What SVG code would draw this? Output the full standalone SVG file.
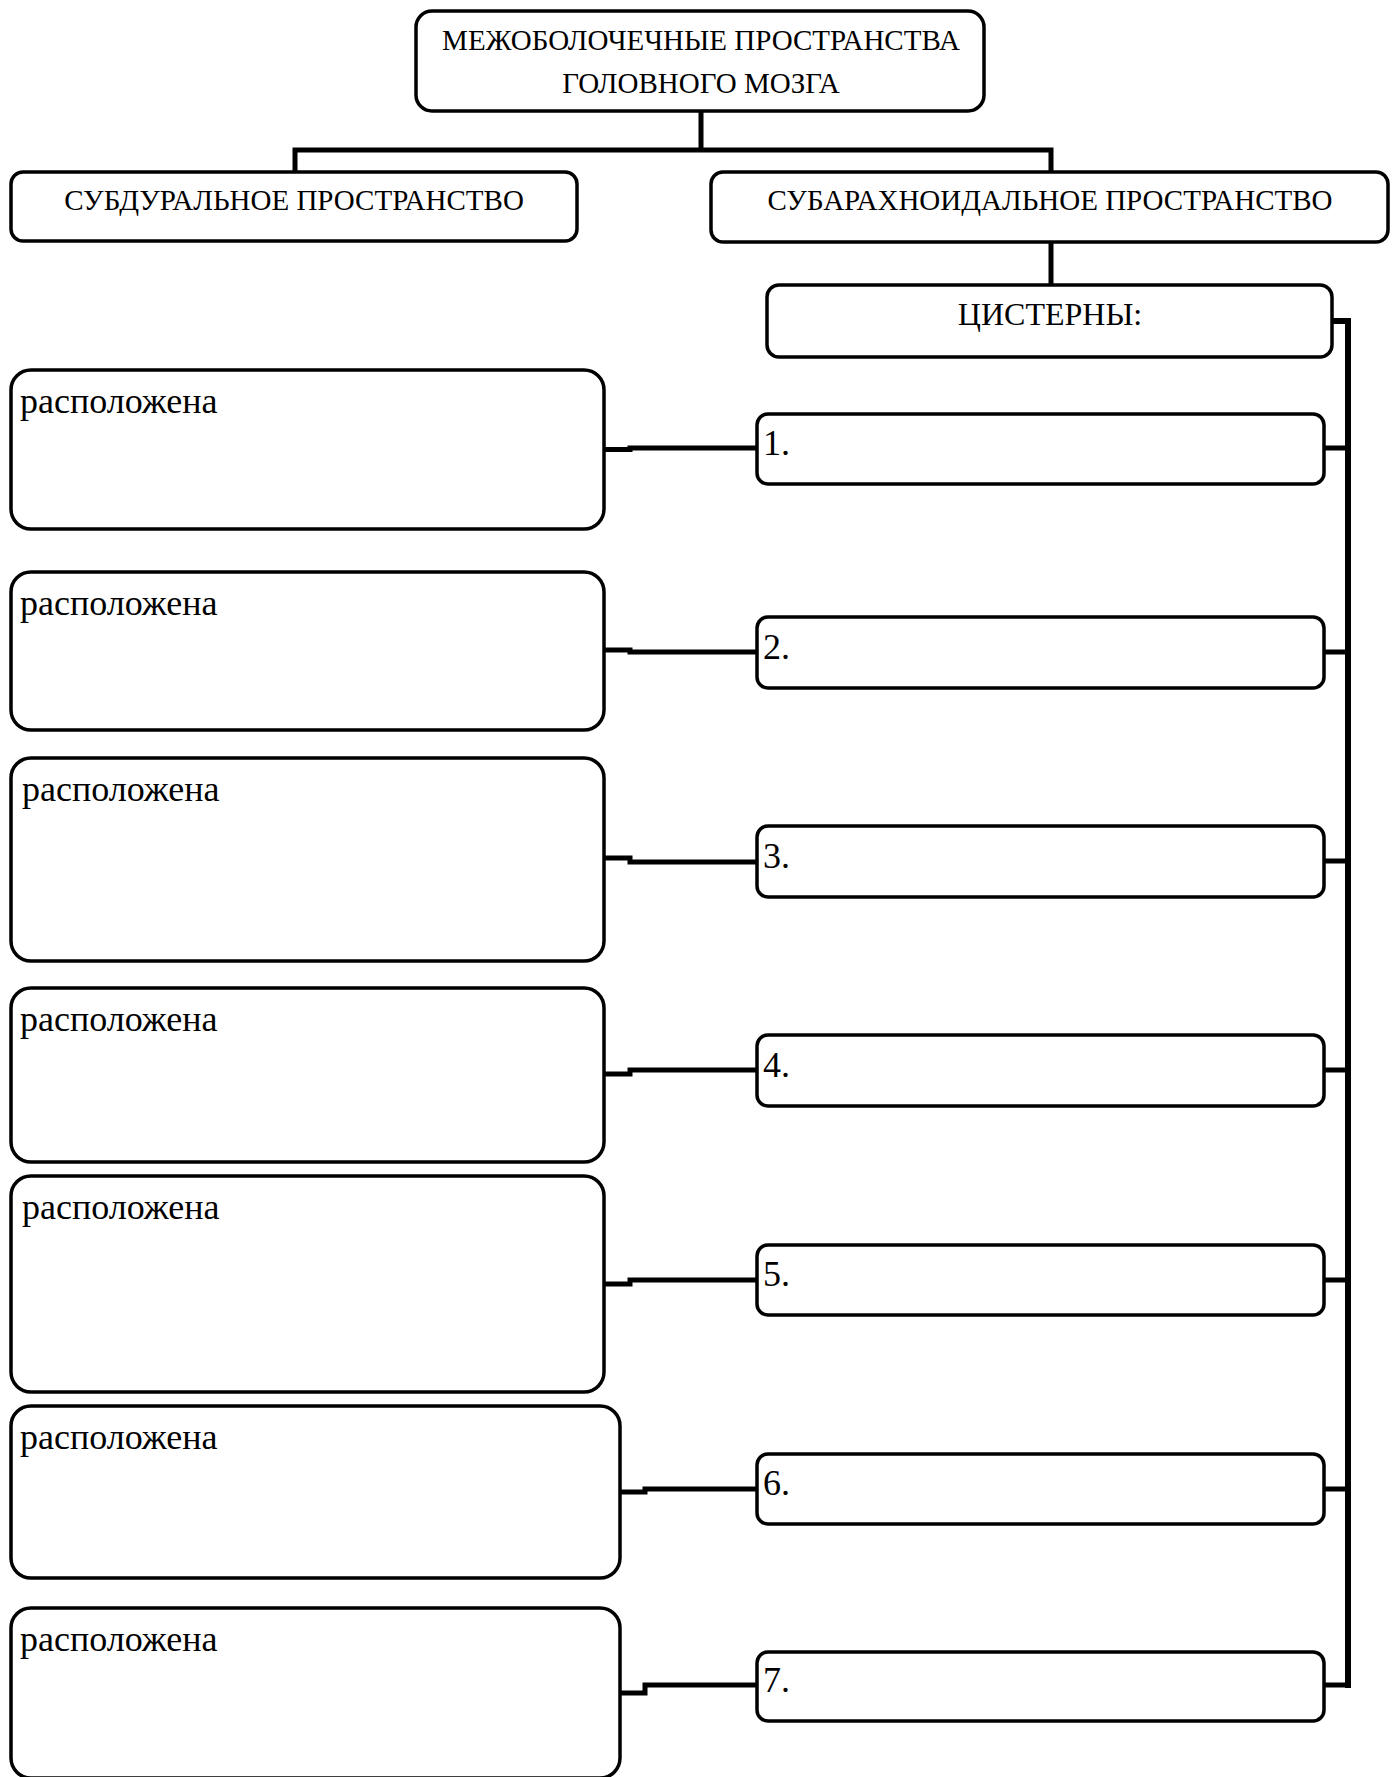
<svg xmlns="http://www.w3.org/2000/svg" width="1397" height="1777" viewBox="0 0 1397 1777">
<style>
.box{fill:#fff;stroke:#000;stroke-width:3.5}
.t{font-family:"Liberation Serif","Times New Roman",serif;fill:#000}
.c{font-size:29px;text-anchor:middle}
.cis{font-size:32px;text-anchor:middle}
.l{font-size:36px}
.conn{fill:none;stroke:#000;stroke-width:5;stroke-linejoin:miter}
.bus{fill:none;stroke:#000;stroke-width:6}
</style>
<rect width="1397" height="1777" fill="#fff"/>
<g id="connectors">
<path class="conn" d="M701,111 V150 M295,172 V150 H1051 V172"/>
<path class="conn" d="M1051,242 V285"/>
<path class="bus" d="M1332,321 H1348 V1688"/>
<path class="conn" d="M1324,448 H1348 M1324,652 H1348 M1324,861 H1348 M1324,1070 H1348 M1324,1280 H1348 M1324,1489 H1348 M1324,1685 H1348"/>
<path class="conn" d="M604,449.5 H630 V448 H757"/>
<path class="conn" d="M604,650 H630 V652 H757"/>
<path class="conn" d="M604,858 H630 V862 H757"/>
<path class="conn" d="M604,1074 H630 V1070 H757"/>
<path class="conn" d="M604,1284 H630 V1280 H757"/>
<path class="conn" d="M620,1492 H645 V1489 H757"/>
<path class="conn" d="M620,1693 H645 V1685 H757"/>
</g>
<g id="root">
<rect class="box" x="416" y="11" width="568" height="100" rx="16"/>
<text class="t c" x="701" y="50">МЕЖОБОЛОЧЕЧНЫЕ ПРОСТРАНСТВА</text>
<text class="t c" x="701" y="93">ГОЛОВНОГО МОЗГА</text>
</g>
<g id="subdural">
<rect class="box" x="11" y="172" width="566" height="69" rx="12"/>
<text class="t c" x="294" y="210">СУБДУРАЛЬНОЕ ПРОСТРАНСТВО</text>
</g>
<g id="subarachnoid">
<rect class="box" x="711" y="172" width="677" height="70" rx="12"/>
<text class="t c" x="1050" y="210">СУБАРАХНОИДАЛЬНОЕ ПРОСТРАНСТВО</text>
</g>
<g id="cisterns">
<rect class="box" x="767" y="285" width="565" height="72" rx="12"/>
<text class="t cis" x="1050" y="325">ЦИСТЕРНЫ:</text>
</g>
<g id="c1"><rect class="box" x="757" y="414" width="567" height="70" rx="11"/><text class="t l" x="763" y="455">1.</text></g>
<g id="c2"><rect class="box" x="757" y="617" width="567" height="71" rx="11"/><text class="t l" x="763" y="659">2.</text></g>
<g id="c3"><rect class="box" x="757" y="826" width="567" height="71" rx="11"/><text class="t l" x="763" y="868">3.</text></g>
<g id="c4"><rect class="box" x="757" y="1035" width="567" height="71" rx="11"/><text class="t l" x="763" y="1077">4.</text></g>
<g id="c5"><rect class="box" x="757" y="1245" width="567" height="70" rx="11"/><text class="t l" x="763" y="1286">5.</text></g>
<g id="c6"><rect class="box" x="757" y="1454" width="567" height="70" rx="11"/><text class="t l" x="763" y="1495">6.</text></g>
<g id="c7"><rect class="box" x="757" y="1652" width="567" height="69" rx="11"/><text class="t l" x="763" y="1692">7.</text></g>
<g id="loc1"><rect class="box" x="11" y="370" width="593" height="159" rx="20"/><text class="t l" x="20" y="413">расположена</text></g>
<g id="loc2"><rect class="box" x="11" y="572" width="593" height="158" rx="20"/><text class="t l" x="20" y="615">расположена</text></g>
<g id="loc3"><rect class="box" x="11" y="758" width="593" height="203" rx="20"/><text class="t l" x="22" y="801">расположена</text></g>
<g id="loc4"><rect class="box" x="11" y="988" width="593" height="174" rx="20"/><text class="t l" x="20" y="1031">расположена</text></g>
<g id="loc5"><rect class="box" x="11" y="1176" width="593" height="216" rx="20"/><text class="t l" x="22" y="1219">расположена</text></g>
<g id="loc6"><rect class="box" x="11" y="1406" width="609" height="172" rx="20"/><text class="t l" x="20" y="1449">расположена</text></g>
<g id="loc7"><rect class="box" x="11" y="1608" width="609" height="170" rx="20"/><text class="t l" x="20" y="1651">расположена</text></g>
</svg>
